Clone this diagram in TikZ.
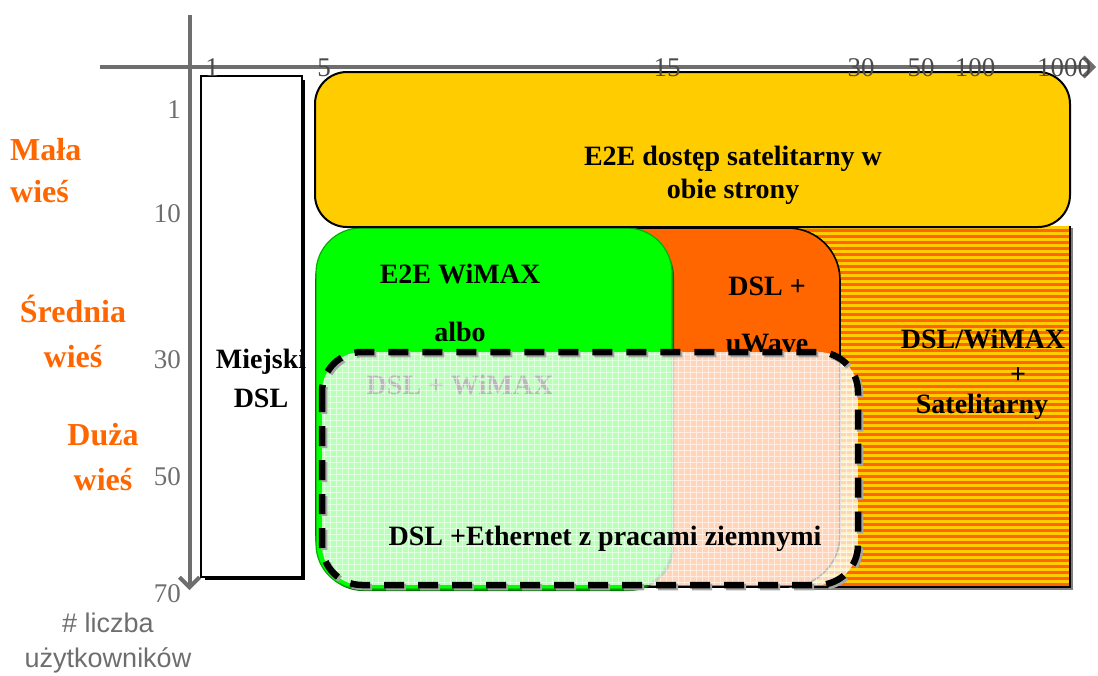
\documentclass[tikz,border=0pt]{standalone}
\usepackage{fontspec}
\setmainfont{Liberation Serif}
\newfontfamily\arialf{Liberation Sans}
\usetikzlibrary{arrows.meta}
\definecolor{myyellow}{HTML}{FFCC00}
\definecolor{myorange}{HTML}{FF6600}
\definecolor{mygreen}{HTML}{00FF00}
\definecolor{axisgray}{HTML}{6E6E6E}
\definecolor{tickdark}{HTML}{4A4A4A}
\begin{document}
\begin{tikzpicture}[x=1pt,y=-1pt,
  lbl/.style={font=\fontsize{28}{33}\selectfont\bfseries, inner sep=0pt, anchor=base},
  olbl/.style={font=\fontsize{32}{36}\selectfont\bfseries, text=myorange, inner sep=0pt, anchor=base},
  tick/.style={font=\fontsize{27}{30}\selectfont, text=axisgray, inner sep=0pt, anchor=base},
  xtick/.style={tick, text=tickdark},
  ytick/.style={tick, anchor=base east},
  sanslbl/.style={font=\arialf\fontsize{27}{30}\selectfont, text=axisgray, inner sep=0pt, anchor=base},
  axisline/.style={draw=axisgray, line width=4pt},
  boxline/.style={draw=black, line width=1.6pt}]
\useasboundingbox (0,0) rectangle (1098,675);

% striped region
\fill[myyellow] (800,226) rectangle (1070,587);
\foreach \yy in {229,235,...,583} {\fill[myorange] (800,\yy) rectangle (1070,\yy+3);}
\draw[gray, line width=1.2pt] (802,589) -- (1072,589) -- (1072,228);
\draw[boxline] (800,587) -- (1070,587) -- (1070,226);

% orange box
\draw[boxline, fill=myorange, rounded corners=52pt] (316,228) rectangle (840,587);

% green box
\fill[green!45!black, rounded corners=45pt] (318,232) rectangle (674,591);
\draw[draw=green!70!black, line width=1.2pt, fill=mygreen, rounded corners=45pt] (316,228) rectangle (672,589);

% yellow box
\draw[boxline, line width=2pt, fill=myyellow, rounded corners=32pt] (315,72) rectangle (1070,227);

% Miejski DSL box
\fill[black] (205,80) rectangle (305,580);
\draw[draw=black, line width=1.3pt, fill=white] (201,76) rectangle (302,577);

% axes
\draw[axisline, -{Straight Barb[length=10pt,width=20pt]}] (100,67) -- (1096,67);
\draw[axisline, -{Straight Barb[length=10pt,width=20pt]}] (189.5,15) -- (189.5,590);

% x ticks
\node[xtick] (x1) at (212,76) {1};
\node[xtick] (x5) at (324,76) {5};
\node[xtick] (x15) at (667,76) {15};
\node[xtick] (x30) at (861,76) {30};
\node[xtick] (x50) at (921,76) {50};
\node[xtick] (x100) at (975,76) {100};
\node[xtick] (x1000) at (1064,76) {1000};

% y ticks
\node[ytick] (y1) at (181,118) {1};
\node[ytick] (y10) at (181,222) {10};
\node[ytick] (y30) at (181,368) {30};
\node[ytick] (y50) at (181,485) {50};
\node[ytick] (y70) at (181,602) {70};

% orange labels
\node[olbl, anchor=base west] (mala1) at (10,160) {Mała};
\node[olbl, anchor=base west] (mala2) at (10,202) {wieś};
\node[olbl] (sred1) at (73,322) {Średnia};
\node[olbl] (sred2) at (73,367) {wieś};
\node[olbl] (duza1) at (103,445) {Duża};
\node[olbl] (duza2) at (103,490) {wieś};

% axis title
\node[sanslbl] (users1) at (108,632) {\# liczba};
\node[sanslbl] (users2) at (108,667) {użytkowników};

% box texts
\node[lbl] (sat1) at (733,165) {E2E dostęp satelitarny w};
\node[lbl] (sat2) at (733,198) {obie strony};
\node[lbl] (miej1) at (261,368) {Miejski};
\node[lbl] (miej2) at (261,407) {DSL};
\node[lbl] (wimax1) at (460,283) {E2E WiMAX};
\node[lbl] (wimax2) at (460,341) {albo};
\node[lbl] (uw1) at (767,295) {DSL +};
\node[lbl] (uw2) at (767,352) {uWave};
\node[lbl] (wimax3) at (460,394) {DSL + WiMAX};
\node[lbl] (ds1) at (983,348) {DSL/WiMAX};
\node[lbl] (ds2) at (1018,383) {+};
\node[lbl] (ds3) at (982,413) {Satelitarny};

% translucent overlay
\begin{scope}
\clip[rounded corners=40pt] (322,352) rectangle (858,585);
\fill[white, opacity=0.72] (322,352) rectangle (858,585);
\draw[white, line width=0.8pt, opacity=0.6, step=6pt] (322,352) grid (858,585);
\end{scope}
\draw[gray!70, line width=6.5pt, dash pattern=on 20pt off 14pt, rounded corners=40pt] (324,354) rectangle (860,587);
\draw[black, line width=6.5pt, dash pattern=on 20pt off 14pt, rounded corners=40pt] (322,352) rectangle (858,585);

\node[lbl] (eth) at (605,545) {DSL +Ethernet z pracami ziemnymi};
\end{tikzpicture}
\end{document}
